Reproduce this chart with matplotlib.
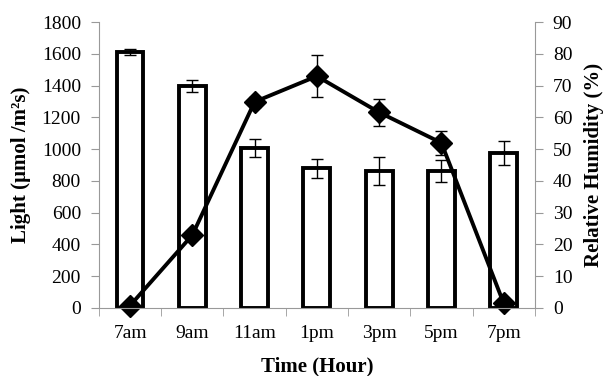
import numpy as np
import matplotlib
matplotlib.use('Agg')
import matplotlib.pyplot as plt

plt.rcParams['font.family'] = ['Liberation Serif', 'DejaVu Serif']

# data
hours = ['7am', '9am', '11am', '1pm', '3pm', '5pm', '7pm']
humidity = [80.6, 69.9, 50.4, 44.0, 43.1, 43.1, 48.9]
humidity_err = [0.8, 1.9, 2.8, 3.0, 4.3, 3.5, 3.8]
light = [15, 459, 1298, 1460, 1232, 1040, 30]
light_err = [0, 0, 30, 133, 84, 75, 0]

x = np.arange(len(hours))
grey = '#999999'

fig = plt.figure(figsize=(6.07, 3.76), dpi=100)
ax = fig.add_axes([0.163, 0.181, 0.718, 0.76])
ax2 = ax.twinx()

# bars -> relative humidity (right axis)
ax2.bar(x, humidity, width=0.43, color='white', edgecolor='black', linewidth=2.8)
ax2.errorbar(x, humidity, yerr=humidity_err, fmt='none', ecolor='black',
             elinewidth=1, capsize=4.5, capthick=1)

# line -> light (left axis), drawn above the bars
ax.set_zorder(ax2.get_zorder() + 1)
ax.patch.set_visible(False)
ax.errorbar(x, light, yerr=light_err, fmt='none', ecolor='black',
            elinewidth=1, capsize=4.5, capthick=1)
ax.plot(x, light, color='black', linewidth=2.8, marker='D', markersize=11,
        clip_on=False)

ax.set_xlim(-0.5, 6.5)
ax.set_ylim(0, 1800)
ax.set_yticks(np.arange(0, 1801, 200))
ax2.set_ylim(0, 90)
ax2.set_yticks(np.arange(0, 91, 10))

ax.set_xticks(x)
ax.set_xticklabels(hours)
ax.set_xticks(np.arange(-0.5, 7, 1), minor=True)
ax.tick_params(axis='x', which='major', length=0, labelsize=14, pad=12)
ax.tick_params(axis='x', which='minor', length=6, color=grey, direction='out')
ax.tick_params(axis='y', length=6, color=grey, labelsize=14, pad=7)
ax2.tick_params(axis='y', length=6, color=grey, labelsize=14, pad=7)

for a in (ax, ax2):
    a.spines['top'].set_visible(False)
    for s in ('left', 'right', 'bottom'):
        a.spines[s].set_color(grey)
ax.spines['right'].set_visible(False)
ax2.spines['left'].set_visible(False)
ax2.spines['bottom'].set_visible(False)

ax.set_xlabel('Time (Hour)', fontsize=15, fontweight='bold', labelpad=11)
ax.set_ylabel('Light (µmol /m²s)', fontsize=15, fontweight='bold', labelpad=8)
ax2.set_ylabel('Relative Humidity (%)', fontsize=15, fontweight='bold', labelpad=8)

fig.savefig('out.png', dpi=100)
